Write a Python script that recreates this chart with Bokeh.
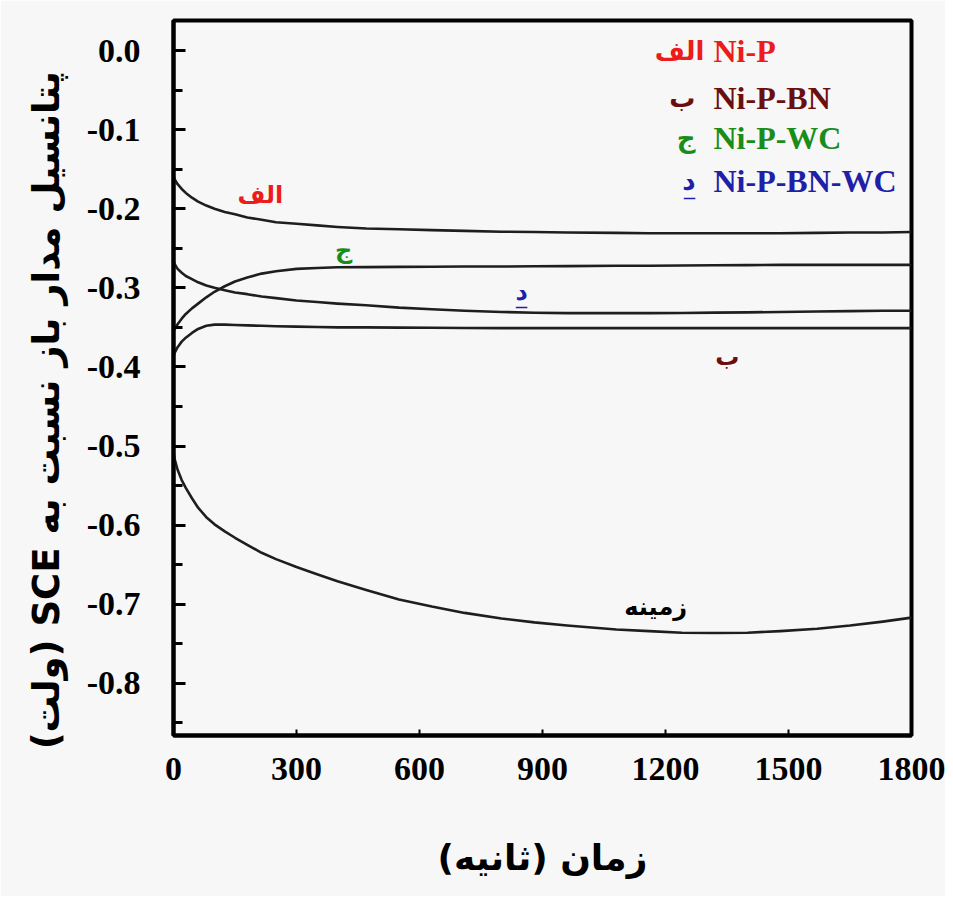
from bokeh.plotting import figure
from bokeh.models import Range1d, FixedTicker, Label, PrintfTickFormatter, ColumnDataSource
from bokeh.core.properties import value
from bokeh.embed import file_html
from bokeh.resources import INLINE

# ---- data ----
time_s = [0, 3, 10, 20, 30, 45, 60, 80, 100, 125, 150, 180, 215, 250, 300, 350, 400,
          470, 550, 630, 710, 800, 880, 960, 1080, 1160, 1240, 1320, 1400, 1480,
          1570, 1650, 1730, 1800]

ni_p = [-0.158, -0.163, -0.169, -0.175, -0.180, -0.186, -0.191, -0.196, -0.200,
        -0.204, -0.207, -0.211, -0.214, -0.217, -0.219, -0.221, -0.223, -0.225,
        -0.226, -0.227, -0.228, -0.229, -0.2295, -0.230, -0.2305, -0.231, -0.231,
        -0.231, -0.231, -0.231, -0.2305, -0.230, -0.230, -0.2295]

ni_p_bn_wc = [-0.266, -0.270, -0.276, -0.281, -0.285, -0.289, -0.293, -0.297, -0.300,
              -0.303, -0.306, -0.308, -0.311, -0.313, -0.316, -0.318, -0.320, -0.322,
              -0.325, -0.327, -0.329, -0.3305, -0.3315, -0.332, -0.332, -0.332, -0.3318,
              -0.3314, -0.331, -0.3305, -0.330, -0.3295, -0.329, -0.329]

ni_p_wc = [-0.355, -0.352, -0.346, -0.339, -0.333, -0.326, -0.320, -0.312, -0.305,
           -0.298, -0.292, -0.287, -0.282, -0.279, -0.276, -0.275, -0.274, -0.2738,
           -0.2735, -0.2733, -0.273, -0.273, -0.2728, -0.2725, -0.272, -0.272,
           -0.2717, -0.2715, -0.2713, -0.271, -0.271, -0.271, -0.271, -0.271]

ni_p_bn = [-0.386, -0.382, -0.375, -0.368, -0.363, -0.357, -0.352, -0.348, -0.3465,
           -0.3465, -0.347, -0.3475, -0.348, -0.3485, -0.349, -0.3495, -0.350, -0.350,
           -0.3503, -0.3505, -0.3507, -0.351, -0.351, -0.351, -0.351, -0.351, -0.351,
           -0.351, -0.351, -0.351, -0.351, -0.351, -0.351, -0.351]

substrate = [-0.508, -0.517, -0.530, -0.543, -0.553, -0.566, -0.578, -0.590, -0.599,
             -0.608, -0.616, -0.625, -0.635, -0.643, -0.653, -0.662, -0.671, -0.682,
             -0.694, -0.703, -0.711, -0.718, -0.723, -0.727, -0.732, -0.734, -0.736,
             -0.7365, -0.736, -0.734, -0.731, -0.727, -0.722, -0.717]

x_ticks = [0, 300, 600, 900, 1200, 1500, 1800]
y_ticks = [0.0, -0.1, -0.2, -0.3, -0.4, -0.5, -0.6, -0.7, -0.8]
y_minor = [0.0, -0.05, -0.1, -0.15, -0.2, -0.25, -0.3, -0.35, -0.4, -0.45, -0.5,
           -0.55, -0.6, -0.65, -0.7, -0.75, -0.8, -0.85]

series_names = ["Ni-P", "Ni-P-BN", "Ni-P-WC", "Ni-P-BN-WC"]
series_letters = ["الف", "ب", "ج", "د"]
series_colors = ["#ec1c1c", "#6a0f0f", "#1a8c1a", "#1f1fa8"]

x_title = "زمان (ثانیه)"
y_title = "پتانسیل مدار باز نسبت به SCE (ولت)"
substrate_name = "زمینه"

# curve annotation anchors (time, potential)
curve_label_t = [212, 1351, 415, 849]
curve_label_v = [-0.182, -0.388, -0.252, -0.305]
substrate_label_t = [1176]
substrate_label_v = [-0.704]

RLE, PDF, NBSP = "\u202B", "\u202C", "\u00A0"

# ---- figure ----
p = figure(width=945, height=896, output_backend="svg", toolbar_location=None,
           x_range=Range1d(0, 1800), y_range=Range1d(-0.866, 0.038),
           min_border_left=173, min_border_right=34, min_border_top=20,
           min_border_bottom=161)
p.background_fill_color = "#f7f7f7"
p.border_fill_color = "#f7f7f7"
p.outline_line_color = "black"
p.outline_line_width = 4
p.grid.visible = False

ya = p.yaxis[0]
ya.ticker = FixedTicker(ticks=y_ticks, minor_ticks=y_minor)
ya.formatter = PrintfTickFormatter(format="%.1f")
ya.axis_line_width = 4
ya.major_tick_in = 12
ya.major_tick_out = 0
ya.minor_tick_in = 9
ya.minor_tick_out = 0
ya.major_tick_line_width = 3
ya.minor_tick_line_width = 3
ya.major_label_standoff = 33
# RTL embedding so the Persian title reads correctly; leading spaces shift it down
ya.axis_label = RLE + NBSP * 5 + y_title + PDF
ya.axis_label_standoff = 16
ya.axis_label_text_font = "DejaVu Sans"
ya.axis_label_text_font_style = "bold"
ya.axis_label_text_font_size = "37px"
ya.axis_label_text_color = "black"

xa = p.xaxis[0]
xa.ticker = FixedTicker(ticks=x_ticks, minor_ticks=[])
xa.axis_line_width = 4
xa.major_tick_in = 6
xa.major_tick_out = 0
xa.major_tick_line_width = 2
xa.major_label_standoff = 22
xa.axis_label = RLE + x_title + PDF
xa.axis_label_standoff = 54
xa.axis_label_text_font = "DejaVu Sans"
xa.axis_label_text_font_style = "bold"
xa.axis_label_text_font_size = "36px"
xa.axis_label_text_color = "black"

for ax in (xa, ya):
    ax.major_label_text_font = "Liberation Serif"
    ax.major_label_text_font_style = "bold"
    ax.major_label_text_font_size = "34px"
    ax.major_label_text_color = "black"

# curves
line_color = "#1e1e1e"
for ys in (ni_p, ni_p_bn_wc, ni_p_wc, ni_p_bn, substrate):
    p.line(time_s, ys, line_color=line_color, line_width=2.6, line_join="round")

# curve labels
src = ColumnDataSource(dict(x=curve_label_t, y=curve_label_v,
                            text=series_letters, color=series_colors))
p.text(x="x", y="y", text="text", text_color="color", source=src,
       text_font=value("DejaVu Sans"), text_font_style="bold",
       text_font_size="24px", text_align="center", text_baseline="middle")
# underline for the fourth letter
p.text(x=curve_label_t[3:4], y=curve_label_v[3:4], text=["_"], text_color=series_colors[3],
       text_font=value("DejaVu Sans"), text_font_size="22px", text_align="center",
       text_baseline="middle", y_offset=4)
p.text(x=substrate_label_t, y=substrate_label_v, text=[substrate_name], text_color="black",
       text_font=value("DejaVu Sans"), text_font_style="bold",
       text_font_size="24px", text_align="center", text_baseline="middle")

# legend (text only) in the top-right corner of the frame
leg_y = [685, 638, 598, 555]
for i, (nm, lt, col) in enumerate(zip(series_names, series_letters, series_colors)):
    p.add_layout(Label(x=540, y=leg_y[i], x_units="screen", y_units="screen",
                       text=nm, text_font="Liberation Serif", text_font_style="bold",
                       text_font_size="32px", text_color=col, text_baseline="middle"))
    p.add_layout(Label(x=531 if i == 0 else 522, y=leg_y[i], x_units="screen", y_units="screen",
                       text=lt, text_font="DejaVu Sans", text_font_style="bold",
                       text_font_size="26px", text_color=col, text_baseline="middle",
                       text_align="right"))
p.add_layout(Label(x=516, y=leg_y[3] - 6, x_units="screen", y_units="screen",
                   text="_", text_font="DejaVu Sans", text_font_size="22px",
                   text_color=series_colors[3], text_baseline="middle", text_align="center"))

open("out.html", "w").write(file_html(p, INLINE))
